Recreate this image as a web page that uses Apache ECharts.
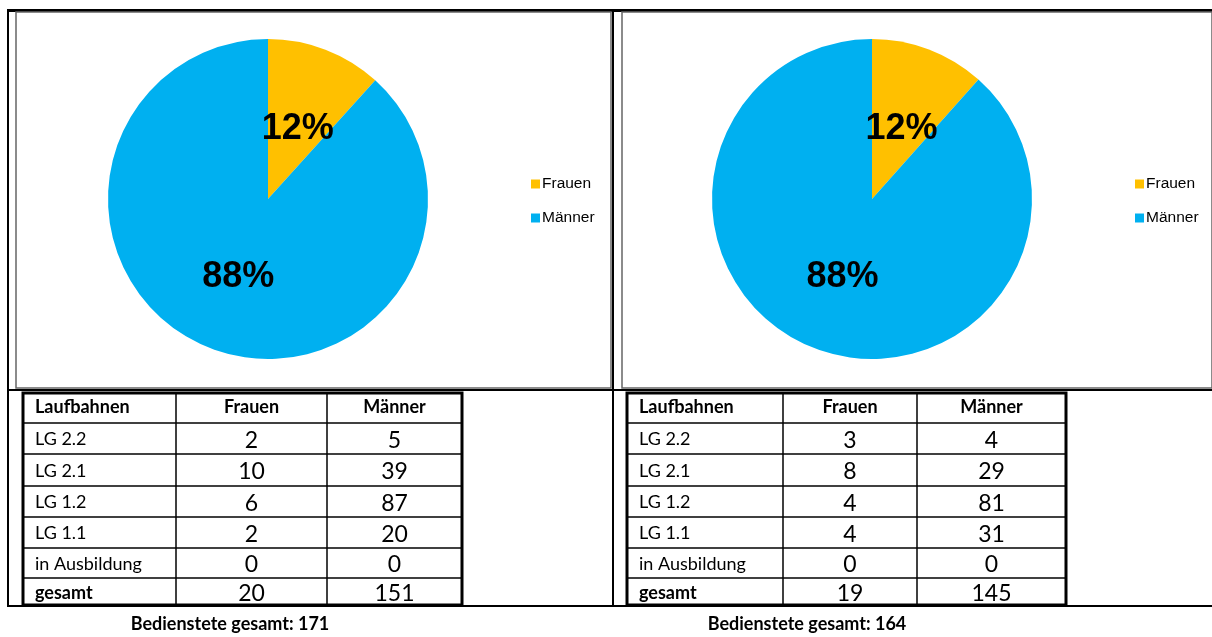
<!DOCTYPE html>
<html>
<head>
<meta charset="utf-8">
<script src="https://cdn.jsdelivr.net/npm/echarts@6/dist/echarts.min.js"></script>
<style>
  html, body { margin: 0; padding: 0; background: #fff; }
  #main { width: 1212px; height: 637px; }
</style>
</head>
<body>
<div id="main"></div>
<script>
// Daten
const categories = ['Frauen', 'Männer'];
const colors = ['#FFC000', '#00B0F0'];
const headers = ['Laufbahnen', 'Frauen', 'Männer'];
const rowLabels = ['LG 2.2', 'LG 2.1', 'LG 1.2', 'LG 1.1', 'in Ausbildung', 'gesamt'];
const frauenLinks = [2, 10, 6, 2, 0, 20];
const maennerLinks = [5, 39, 87, 20, 0, 151];
const frauenRechts = [3, 8, 4, 4, 0, 19];
const maennerRechts = [4, 29, 81, 31, 0, 145];

const panels = [
  { frauen: frauenLinks, maenner: maennerLinks, cx: 268, legendX: 526, tableX: [23, 176, 327, 462], boxX: [16, 611], sumX: 230 },
  { frauen: frauenRechts, maenner: maennerRechts, cx: 872, legendX: 1130, tableX: [627, 783, 917, 1066], boxX: [622, 1212], sumX: 807 }
];
const rowY = [392, 423, 454, 486, 517, 548, 578, 606];

var myChart = echarts.init(document.getElementById('main'));
var graphic = [];

function line(x1, y1, x2, y2, w, c) {
  graphic.push({ type: 'line', silent: true, shape: { x1: x1, y1: y1, x2: x2, y2: y2 },
    style: { stroke: c || '#000', lineWidth: w } });
}
function text(t, x, y, align, size, bold) {
  graphic.push({ type: 'text', silent: true, x: x, y: y,
    style: { text: t, textAlign: align, textVerticalAlign: 'middle', fill: '#000',
      fontSize: size, fontWeight: bold ? 'bold' : 'normal', fontFamily: 'Lato, Carlito, sans-serif' } });
}

// äußerer Rahmen
line(7, 10.5, 1212, 10.5, 3);
line(8, 10, 8, 607, 2);
line(7, 606, 1212, 606, 2);
line(613, 10, 613, 607, 2);
line(7, 390, 1212, 390, 2);

var series = [];
var legends = [];
panels.forEach(function (p, i) {
  var last = p.frauen.length - 1;
  // Diagrammrahmen
  graphic.push({ type: 'rect', silent: true, shape: { x: p.boxX[0], y: 12, width: p.boxX[1] - p.boxX[0], height: 376 },
    style: { fill: 'none', stroke: '#666', lineWidth: 1.5 } });

  series.push({
    type: 'pie',
    center: [p.cx, 199],
    radius: 160,
    startAngle: 90,
    clockwise: true,
    percentPrecision: 0,
    label: { position: 'inside', formatter: '{d}%', color: '#000', fontSize: 36,
      fontWeight: 'bold', fontFamily: 'Liberation Sans, Arial, sans-serif' },
    labelLine: { show: false },
    emphasis: { disabled: true },
    data: categories.map(function (c, k) {
      return { name: c, value: k === 0 ? p.frauen[last] : p.maenner[last], itemStyle: { color: colors[k] },
        label: { offset: k === 0 ? [0, 8] : [0, 1] } };
    })
  });

  legends.push({
    data: categories,
    orient: 'vertical',
    left: p.legendX,
    top: 171,
    icon: 'rect',
    itemWidth: 9,
    itemHeight: 9,
    itemGap: 18,
    selectedMode: false,
    textStyle: { fontSize: 15.5, color: '#000', fontFamily: 'Liberation Sans, Arial, sans-serif', padding: [0, 0, 0, -3] }
  });

  // Tabelle
  var tx = p.tableX;
  for (var r = 1; r < rowY.length - 1; r++) line(tx[0], rowY[r], tx[3], rowY[r], 1.5);
  line(tx[1], rowY[0], tx[1], rowY[7], 1.5);
  line(tx[2], rowY[0], tx[2], rowY[7], 1.5);
  graphic.push({ type: 'rect', silent: true, shape: { x: tx[0], y: rowY[0] + 1, width: tx[3] - tx[0], height: rowY[7] - rowY[0] - 2 },
    style: { fill: 'none', stroke: '#000', lineWidth: 3 } });

  var mid0 = (rowY[0] + rowY[1]) / 2;
  text(headers[0], tx[0] + 12, mid0, 'left', 18, true);
  text(headers[1], (tx[1] + tx[2]) / 2, mid0, 'center', 18, true);
  text(headers[2], (tx[2] + tx[3]) / 2, mid0, 'center', 18, true);
  rowLabels.forEach(function (lab, k) {
    var my = (rowY[k + 1] + rowY[k + 2]) / 2 + 1;
    text(lab, tx[0] + 12, my, 'left', 18, k === last);
    text(String(p.frauen[k]), (tx[1] + tx[2]) / 2, my + 1, 'center', 23, false);
    text(String(p.maenner[k]), (tx[2] + tx[3]) / 2, my + 1, 'center', 23, false);
  });
  text('Bedienstete gesamt: ' + (p.frauen[last] + p.maenner[last]), p.sumX, 624, 'center', 18, true);
});

var option = {
  animation: false,
  legend: legends,
  series: series,
  graphic: graphic
};
myChart.setOption(option);
</script>
</body>
</html>
